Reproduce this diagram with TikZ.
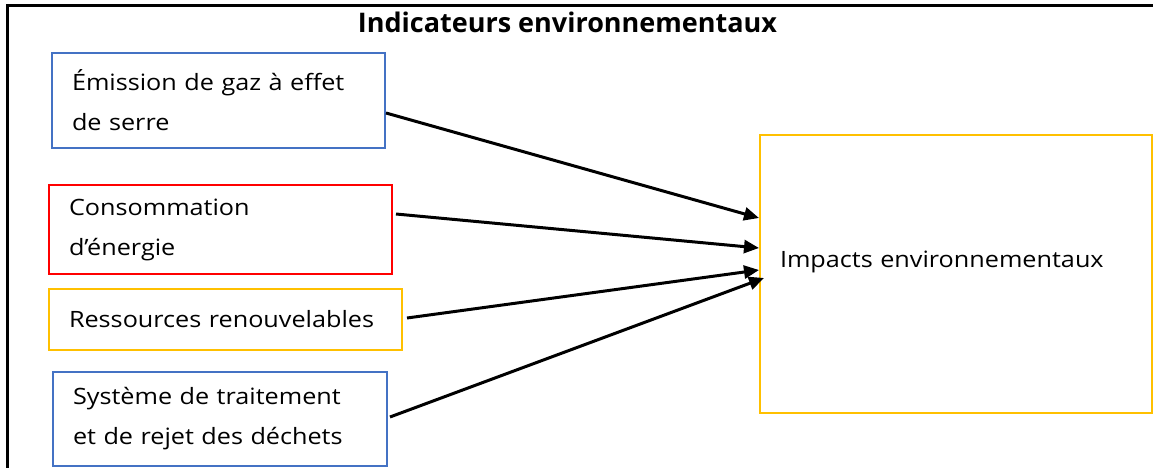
\documentclass[tikz,border=0pt]{standalone}
\usepackage{fontspec}
\setmainfont{Open Sans}[FakeStretch=1.12]
\newfontfamily\titlefont{Open Sans}
\usetikzlibrary{arrows.meta}
\definecolor{boxblue}{HTML}{4472C4}
\definecolor{boxred}{HTML}{FF0000}
\definecolor{boxyellow}{HTML}{FFC000}
\tikzset{
  ind/.style={draw, line width=2pt, inner xsep=20pt, inner ysep=0pt, align=left,
    font=\fontsize{22.5}{40}\selectfont},
  arr/.style={line width=3pt, -{Triangle[length=15pt,width=13pt]}}
}
\begin{document}
\begin{tikzpicture}[x=1pt, y=-1pt]
\useasboundingbox (0,0) rectangle (1153,468);
\draw[line width=3pt] (7,468) -- (7,5.5) -- (1153,5.5);

\node[font=\titlefont\fontsize{27}{32}\selectfont\bfseries] (title) at (567.5,22) {Indicateurs environnementaux};

\node[ind, boxblue, text=black, text width=293pt, minimum height=95pt] (e1) at (218.5,100.5) {Émission de gaz à effet\\de serre};
\node[ind, boxred, text=black, text width=303pt, minimum height=89pt] (e2) at (220.5,229.5) {Consommation\\d’énergie};
\node[ind, boxyellow, text=black, text width=313pt, minimum height=61pt] (e3) at (225.5,319.5) {Ressources renouvelables};
\node[ind, boxblue, text=black, text width=294pt, minimum height=94pt] (e4) at (220,419) {Système de traitement\\et de rejet des déchets};

\node[ind, boxyellow, text=black, text width=352pt, minimum height=278pt, text depth=30pt] (imp) at (956,274) {Impacts environnementaux};

\draw[arr] ([yshift=-12.5pt]e1.east) -- ([yshift=56pt]imp.west);
\draw[arr] ([xshift=3pt,yshift=15.5pt]e2.east) -- ([yshift=26pt]imp.west);
\draw[arr] ([xshift=4pt,yshift=1.5pt]e3.east) -- ([yshift=4pt]imp.west);
\draw[arr] ([xshift=2pt,yshift=2pt]e4.east) -- ([xshift=5pt,yshift=-4pt]imp.west);
\end{tikzpicture}
\end{document}
